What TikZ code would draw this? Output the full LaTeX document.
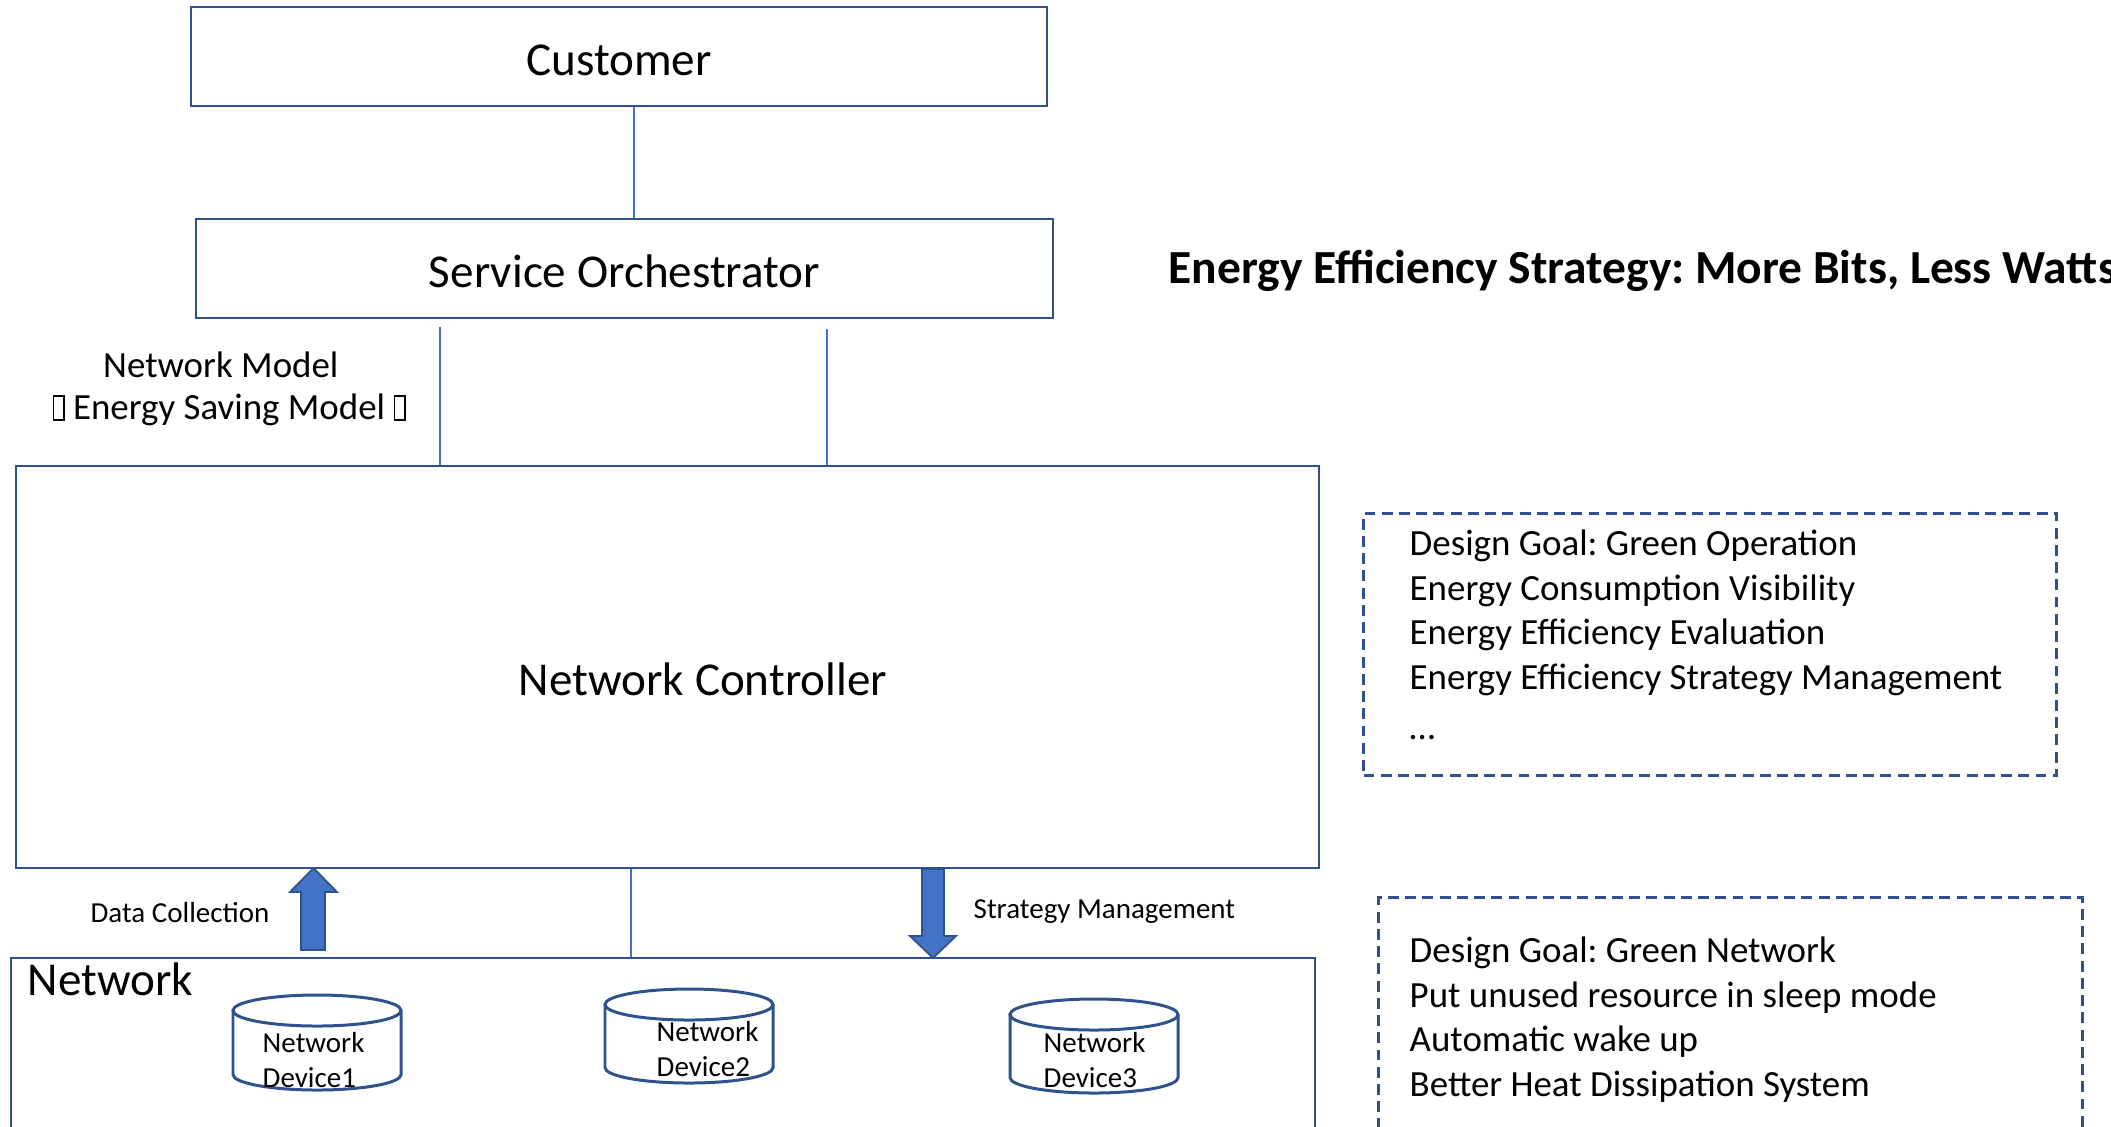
\documentclass[tikz,border=0pt]{standalone}
\usepackage{fontspec}
\setmainfont{Carlito}
\usetikzlibrary{positioning}
\definecolor{boxblue}{HTML}{2F528F}
\definecolor{lineblue}{HTML}{4472C4}
\newcommand{\tofu}{{\fboxsep=0pt\fboxrule=0.4pt\fbox{\rule{0pt}{6.4pt}\hspace{2.6pt}}}}
\frenchspacing

\begin{document}
\begin{tikzpicture}[x=0.01cm, y=-0.01cm,
  box/.style={draw=boxblue, line width=0.6pt, inner sep=0pt},
  link/.style={draw=lineblue, line width=0.45pt},
  dashbox/.style={draw=boxblue, line width=0.85pt, dash pattern=on 3.1pt off 1.8pt, inner sep=0pt},
  bigfont/.style={font=\fontsize{13.4}{16}\selectfont},
  midfont/.style={font=\fontsize{10.5}{12.72}\selectfont},
  smallfont/.style={font=\fontsize{8.25}{9.96}\selectfont},
  fatarrow/.style={fill=lineblue, draw=boxblue, line width=0.5pt},
  device/.style={draw=boxblue, line width=0.85pt}]
  \useasboundingbox[fill=white] (0,0) rectangle (2111,1126);

  % boxes
  \node[box, bigfont, text height=11pt, text depth=0pt, minimum width=8.56cm, minimum height=0.99cm] (customer) at (619,56.5) {Customer};
  \node[box, bigfont, text height=10.8pt, text depth=0pt, minimum width=8.57cm, minimum height=0.99cm] (so) at (624.5,268.5) {Service Orchestrator};
  \node[box, minimum width=13.03cm, minimum height=4.02cm] (nc) at (667.5,667) {};
  \node[bigfont] (nclabel) at (703,679) {Network Controller};
  \node[box, anchor=north west, minimum width=13.03cm, minimum height=3cm] (network) at (10,957) {};
  \node[bigfont, anchor=base west, inner sep=0pt] (netlabel) at (27,995) {Network};

  \draw[link] (customer.south -| 634,0) -- (so.north -| 634,0);
  \draw[link, shorten <=0.08cm] (so.south -| 440,0) -- (nc.north -| 440,0);
  \draw[link, shorten <=0.1cm] (so.south -| 827,0) -- (nc.north -| 827,0);
  \draw[link] (nc.south -| 631,0) -- (network.north -| 631,0);

  \node[font=\fontsize{10.5}{11.95}\selectfont, align=left, anchor=north west, inner sep=0pt] (model) at (52,351)
    {\hspace{0.505cm}Network Model\\\tofu{} Energy Saving Model \tofu};

  % block arrows
  \draw[fatarrow] (301,950) -- (301,892) -- (290,892) -- (313.5,868) -- (337,892) -- (325,892) -- (325,950) -- cycle;
  \draw[fatarrow] (922,869) -- (922,936) -- (910,936) -- (933,958) -- (956,936) -- (944,936) -- (944,869) -- cycle;
  \node[smallfont] (collect) at (180,913) {Data Collection};
  \node[smallfont, anchor=west, inner sep=0pt] (manage) at (973,912) {Strategy Management};

  % devices
  \foreach \cx/\ytop/\ybot/\tx/\ty/\n in {317/995/1090/262/1032/1, 689/989/1083/656/1021/2, 1094/999/1093/1043/1032/3} {
    \draw[device] (\cx-84,\ytop+15.5) -- (\cx-84,\ybot-15.5)
      arc[start angle=180, end angle=360, x radius=0.84cm, y radius=0.155cm] -- (\cx+84,\ytop+15.5);
    \draw[device] (\cx,\ytop+15.5) ellipse [x radius=0.84cm, y radius=0.155cm];
    \node[smallfont, align=left, anchor=north west, inner sep=0pt] (dev\n) at (\tx,\ty) {Network\\Device\n};
  }

  % right side
  \node[font=\fontsize{13.5}{16}\selectfont\bfseries, anchor=base west, inner sep=0pt] (title) at (1168,283)
    {Energy Efficiency Strategy: More Bits, Less Watts};
  \node[dashbox, anchor=north west, minimum width=6.93cm, minimum height=2.62cm] (opsbox) at (1362,512) {};
  \node[midfont, align=left, anchor=north west, inner sep=0pt] (opslist) at (1409,529)
    {Design Goal: Green Operation\\Energy Consumption Visibility\\Energy Efficiency Evaluation\\
     Energy Efficiency Strategy Management\\[1.5pt]\dots};
  \node[dashbox, anchor=north west, minimum width=7.04cm, minimum height=3cm] (netbox) at (1377,896) {};
  \node[midfont, align=left, anchor=north west, inner sep=0pt] (netlist) at (1409,936)
    {Design Goal: Green Network\\Put unused resource in sleep mode\\Automatic wake up\\Better Heat Dissipation System};
\end{tikzpicture}
\end{document}
